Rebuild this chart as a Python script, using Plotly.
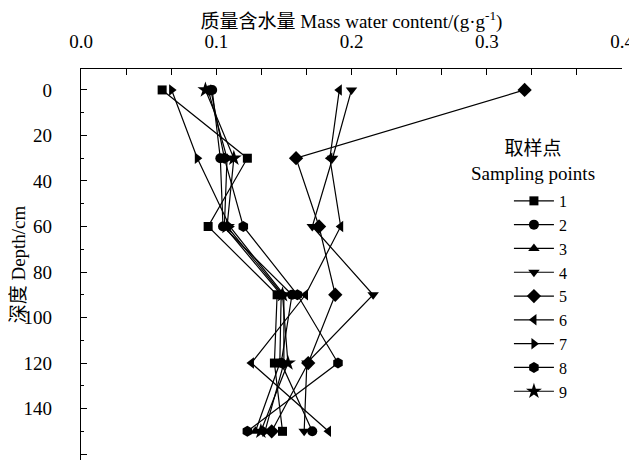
import plotly.graph_objects as go

depth = [0, 30, 60, 90, 120, 150]
s1 = [0.060, 0.123, 0.094, 0.145, 0.143, 0.149]
s2 = [0.097, 0.103, 0.105, 0.156, 0.148, 0.171]
s3 = [0.094, 0.108, 0.106, 0.148, 0.147, 0.129]
s4 = [0.200, 0.186, 0.171, 0.216, 0.167, 0.165]
s5 = [0.328, 0.159, 0.176, 0.188, 0.168, 0.141]
s6 = [0.191, 0.184, 0.192, 0.166, 0.126, 0.183]
s7 = [0.067, 0.086, 0.110, 0.150, 0.150, 0.136]
s8 = [0.096, 0.106, 0.120, 0.160, 0.190, 0.123]
s9 = [0.092, 0.113, 0.108, 0.149, 0.153, 0.133]
series = [s1, s2, s3, s4, s5, s6, s7, s8, s9]
names = ["1", "2", "3", "4", "5", "6", "7", "8", "9"]
symbols = ["square", "circle", "triangle-up", "triangle-down", "diamond",
           "triangle-left", "triangle-right", "hexagon", "star"]
sizes = [9, 10, 10, 10, 11, 10, 10, 11, 12]

FONT = "Liberation Serif, Times New Roman, Noto Sans CJK SC, serif"

fig = go.Figure()
for vals, nm, sym, sz in zip(series, names, symbols, sizes):
    fig.add_trace(go.Scatter(
        x=vals, y=depth, name=nm, mode="lines+markers",
        line=dict(color="black", width=1.2),
        marker=dict(symbol=sym, size=sz, color="black"),
    ))

# page body has an 8px margin: figure is offset by 8px right and down
fig.update_layout(
    width=629, height=452,
    margin=dict(l=73, r=15, t=61, b=0, autoexpand=False),
    paper_bgcolor="white", plot_bgcolor="white",
    font=dict(family=FONT, size=19, color="black"),
    showlegend=True,
    legend=dict(
        x=0.791, y=0.706, xanchor="left", yanchor="top",
        bgcolor="rgba(0,0,0,0)",
        font=dict(family=FONT, size=16),
        tracegroupgap=0, itemwidth=40,
    ),
    annotations=[dict(
        text="取样点<br>Sampling points", xref="paper", yref="paper",
        x=(533 - 81) / 541, y=1 - (161 - 69) / 391, xanchor="center", yanchor="middle",
        showarrow=False, font=dict(family=FONT, size=19),
    )],
    xaxis=dict(
        side="top", range=[0, 0.4], tickvals=[0, 0.1, 0.2, 0.3, 0.4],
        ticktext=["0.0", "0.1", "0.2", "0.3", "0.4"],
        ticks="inside", ticklen=6, tickwidth=1, tickcolor="black",
        minor=dict(dtick=0.1 / 3, ticks="inside", ticklen=6, tickwidth=1, tickcolor="black"),
        showline=True, linecolor="black", linewidth=1.2, mirror=False,
        showgrid=False, zeroline=False, automargin=False,
        title=dict(text="质量含水量 Mass water content/(g·g<sup>-1</sup>)", standoff=12,
                   font=dict(family=FONT, size=19)),
        ticklabelstandoff=12,
    ),
    yaxis=dict(
        range=[162.6, -9.2], tickvals=[0, 20, 40, 60, 80, 100, 120, 140, 160],
        ticks="inside", ticklen=6, tickwidth=1, tickcolor="black",
        minor=dict(dtick=10, ticks="inside", ticklen=3, tickwidth=1, tickcolor="black"),
        showline=True, linecolor="black", linewidth=1.2, mirror=False,
        showgrid=False, zeroline=False, automargin=False,
        title=dict(text="深度 Depth/cm", standoff=14, font=dict(family=FONT, size=19)),
        ticklabelstandoff=24,
    ),
)

fig.write_html("out.html")
